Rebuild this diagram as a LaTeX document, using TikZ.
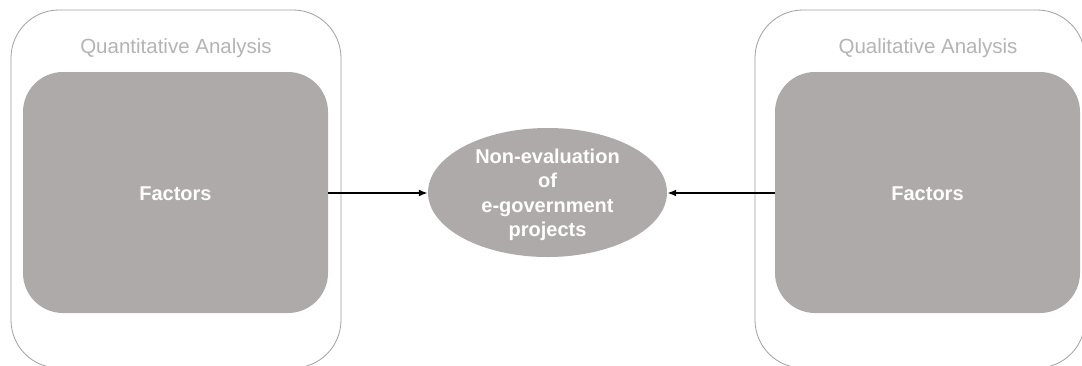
\documentclass[tikz,border=0pt]{standalone}
\usepackage{fontspec}
\setmainfont{Liberation Sans}
\usetikzlibrary{shapes.geometric,arrows.meta}
\definecolor{boxfill}{RGB}{174,170,169}
\definecolor{outerline}{RGB}{160,160,160}
\definecolor{titlegray}{RGB}{180,180,180}
\tikzset{
  outerbox/.style={draw=outerline, line width=0.8pt, rounded corners=48pt, fill=none},
  innerbox/.style={fill=boxfill, draw=none, rounded corners=40pt, text=white,
    font=\fontsize{20}{24}\selectfont\bfseries},
  titletext/.style={text=titlegray, font=\fontsize{20.5}{24}\selectfont, inner sep=0pt},
  goal/.style={ellipse, fill=boxfill, draw=none, text=white, inner sep=0pt,
    minimum width=239pt, minimum height=129pt, align=center,
    font=\fontsize{20}{24.5}\selectfont\bfseries},
  link/.style={line width=1.8pt, -{Latex[length=9pt,width=7pt]}}
}
\begin{document}
\begin{tikzpicture}[x=1pt,y=-1pt]
\useasboundingbox (0,0) rectangle (1082,365);
\clip (0,0) rectangle (1082,365);
\fill[white] (0,0) rectangle (1082,365);
% left group
\draw[outerbox] (11,10) rectangle (341,368);
\node[titletext, anchor=base] (tl) at (176,53) {Quantitative Analysis};
\node[innerbox, minimum width=305pt, minimum height=241pt, inner sep=0pt] (fl) at (175.5,192.5) {};
\node[text=white, font=\fontsize{20}{24}\selectfont\bfseries, anchor=base] (fltext) at (175.5,200) {Factors};
% right group
\draw[outerbox] (755,10) rectangle (1085,368);
\node[titletext, anchor=base] (tr) at (928,53) {Qualitative Analysis};
\node[innerbox, minimum width=305pt, minimum height=241pt, inner sep=0pt] (fr) at (927.5,192.5) {};
\node[text=white, font=\fontsize{20}{24}\selectfont\bfseries, anchor=base] (frtext) at (927.5,200) {Factors};
% center
\node[goal] (g) at (547.5,192.5) {};
\node[text=white, align=center, font=\fontsize{20}{24.5}\selectfont\bfseries, inner sep=0pt, anchor=north] (gtext) at (547.5,148.5) {Non-evaluation\\of\\e-government\\projects};
% arrows
\draw[link] (fl.east |- 0,193) -- (g.west |- 0,193);
\draw[link] (fr.west |- 0,193) -- (g.east |- 0,193);
\end{tikzpicture}
\end{document}
